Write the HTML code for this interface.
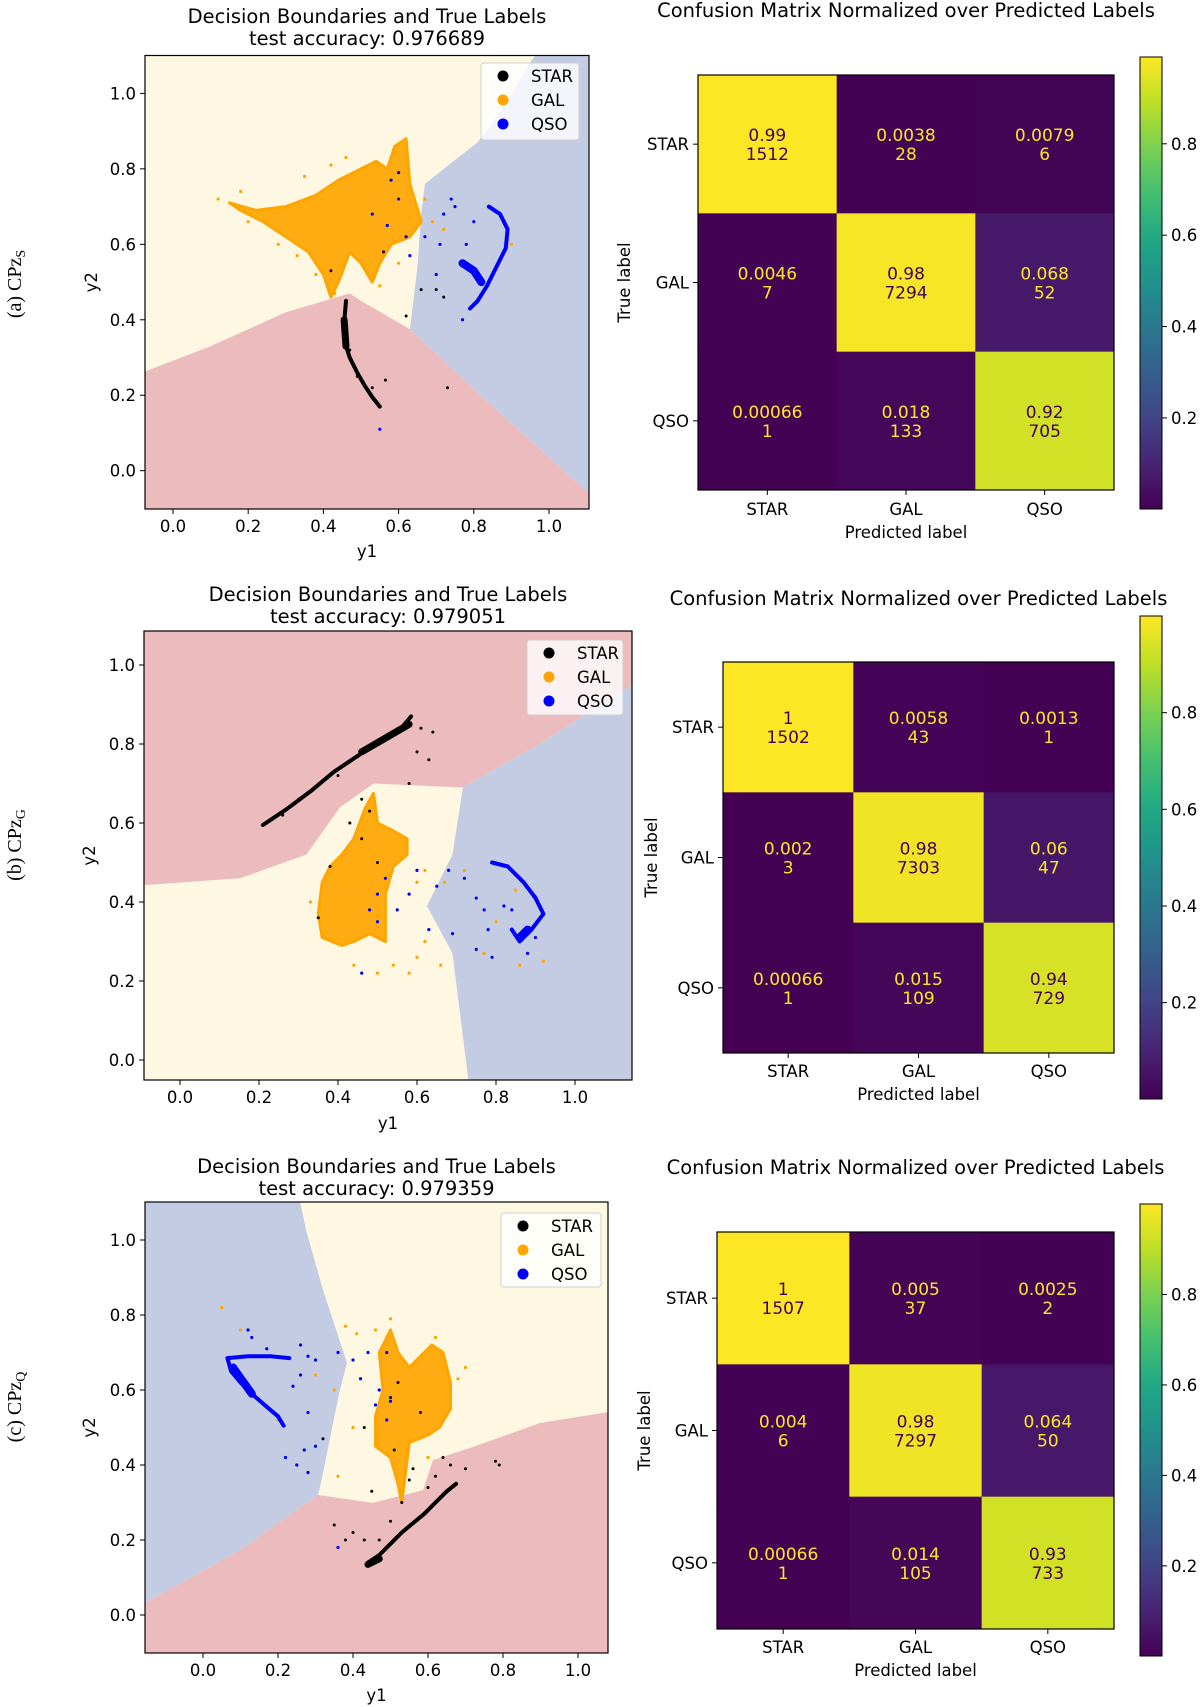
<!DOCTYPE html>
<html><head><meta charset="utf-8">
<style>
html,body{margin:0;padding:0;background:#fff;}
svg{display:block;font-family:"DejaVu Sans","Liberation Sans",sans-serif;}
</style></head>
<body>
<svg id="fig" width="1200" height="1707" viewBox="0 0 1200 1707" xmlns="http://www.w3.org/2000/svg">
<defs>
<linearGradient id="vir" x1="0" y1="1" x2="0" y2="0">
<stop offset="0" stop-color="#440154"/><stop offset="0.1" stop-color="#482475"/><stop offset="0.2" stop-color="#414487"/><stop offset="0.3" stop-color="#355f8d"/><stop offset="0.4" stop-color="#2a788e"/><stop offset="0.5" stop-color="#21918c"/><stop offset="0.6" stop-color="#22a884"/><stop offset="0.7" stop-color="#44bf70"/><stop offset="0.8" stop-color="#7ad151"/><stop offset="0.9" stop-color="#bddf26"/><stop offset="1" stop-color="#fde725"/>
</linearGradient>
</defs>
</svg>
<script>
// ---------- data ----------
const classNames = ["STAR","GAL","QSO"];
const axisTicks = [0.0,0.2,0.4,0.6,0.8,1.0];
const cbarTicks = [0.2,0.4,0.6,0.8];
const titles = ["test accuracy: 0.976689","test accuracy: 0.979051","test accuracy: 0.979359"];

// panel A
const regionRedA = [[-0.2,-0.2],[-0.2,0.215],[0.1,0.33],[0.3,0.42],[0.47,0.47],[0.5,0.45],[0.63,0.375],[0.84,0.18],[1.105,-0.06],[1.2,-0.2]];
const regionBlueA = [[0.965,1.2],[0.965,1.105],[0.87,0.95],[0.81,0.87],[0.72,0.8],[0.67,0.76],[0.66,0.68],[0.65,0.54],[0.63,0.375],[0.84,0.18],[1.105,-0.06],[1.2,-0.06],[1.2,1.2]];
const starLineA = [[0.46,0.45],[0.455,0.39],[0.457,0.34],[0.47,0.30],[0.49,0.26],[0.51,0.225],[0.53,0.195],[0.55,0.17]];
const starBlobA = [[0.455,0.40],[0.46,0.33]];
const starPtsA = [[0.49,0.25],[0.565,0.24],[0.73,0.22],[0.62,0.41],[0.70,0.48],[0.72,0.46],[0.66,0.48],[0.42,0.53],[0.56,0.58],[0.47,0.32],[0.53,0.22]];
const galBlobA = [[0.15,0.71],[0.22,0.69],[0.3,0.7],[0.38,0.73],[0.44,0.77],[0.5,0.80],[0.54,0.82],[0.57,0.80],[0.59,0.86],[0.62,0.88],[0.63,0.76],[0.66,0.66],[0.63,0.62],[0.58,0.6],[0.55,0.55],[0.53,0.5],[0.5,0.55],[0.47,0.58],[0.44,0.5],[0.42,0.46],[0.4,0.52],[0.36,0.58],[0.3,0.62],[0.24,0.66],[0.18,0.69]];
const galPtsA = [[0.12,0.72],[0.18,0.74],[0.35,0.78],[0.42,0.81],[0.46,0.83],[0.6,0.55],[0.63,0.67],[0.67,0.72],[0.69,0.66],[0.72,0.64],[0.9,0.6],[0.43,0.47],[0.55,0.49],[0.28,0.6],[0.33,0.57],[0.38,0.52],[0.2,0.66]];
const qsoLineA = [[0.84,0.70],[0.87,0.68],[0.89,0.64],[0.885,0.59],[0.86,0.54],[0.835,0.49],[0.81,0.45],[0.79,0.43]];
const qsoBlobA = [[0.77,0.55],[0.8,0.53],[0.82,0.5]];
const qsoPtsA = [[0.74,0.72],[0.75,0.70],[0.72,0.68],[0.67,0.62],[0.62,0.62],[0.63,0.57],[0.7,0.52],[0.71,0.6],[0.6,0.72],[0.58,0.77],[0.6,0.79],[0.77,0.40],[0.55,0.11],[0.78,0.6],[0.8,0.66],[0.57,0.65],[0.53,0.68]];

// panel B
const regionRedB = [[-0.2,1.2],[-0.2,0.435],[0.152,0.46],[0.32,0.52],[0.405,0.64],[0.49,0.70],[0.716,0.69],[0.91,0.80],[1.144,0.95],[1.2,0.95],[1.2,1.2]];
const regionBlueB = [[0.716,0.69],[0.91,0.8],[1.144,0.95],[1.2,0.95],[1.2,-0.2],[0.73,-0.2],[0.73,-0.05],[0.69,0.27],[0.625,0.39],[0.69,0.52]];
const starLineB = [[0.21,0.595],[0.27,0.635],[0.33,0.68],[0.39,0.73],[0.45,0.77],[0.51,0.81],[0.56,0.84],[0.585,0.87]];
const starBlobB = [[0.46,0.78],[0.58,0.85]];
const starPtsB = [[0.61,0.84],[0.64,0.83],[0.6,0.78],[0.63,0.76],[0.58,0.70],[0.46,0.66],[0.48,0.63],[0.43,0.6],[0.46,0.56],[0.5,0.5],[0.38,0.49],[0.35,0.36],[0.4,0.72],[0.3,0.66],[0.26,0.62]];
const galBlobB = [[0.35,0.37],[0.36,0.45],[0.38,0.49],[0.41,0.52],[0.44,0.56],[0.47,0.64],[0.49,0.675],[0.5,0.6],[0.54,0.58],[0.575,0.56],[0.575,0.52],[0.54,0.49],[0.52,0.42],[0.52,0.3],[0.48,0.32],[0.44,0.3],[0.41,0.29],[0.36,0.31]];
const galPtsB = [[0.33,0.40],[0.44,0.24],[0.5,0.22],[0.54,0.24],[0.58,0.22],[0.6,0.26],[0.62,0.3],[0.66,0.24],[0.67,0.45],[0.62,0.48],[0.72,0.48],[0.8,0.35],[0.85,0.43],[0.92,0.25],[0.86,0.24],[0.77,0.27],[0.6,0.45]];
const qsoLineB = [[0.79,0.50],[0.83,0.49],[0.87,0.45],[0.9,0.41],[0.92,0.37],[0.89,0.33],[0.86,0.30],[0.84,0.33]];
const qsoBlobB = [[0.86,0.31],[0.88,0.33]];
const qsoPtsB = [[0.65,0.44],[0.68,0.48],[0.72,0.46],[0.75,0.41],[0.77,0.38],[0.82,0.39],[0.84,0.38],[0.78,0.33],[0.79,0.26],[0.75,0.28],[0.69,0.32],[0.63,0.33],[0.58,0.42],[0.55,0.38],[0.52,0.46],[0.5,0.42],[0.48,0.38],[0.5,0.35],[0.46,0.22],[0.88,0.27],[0.90,0.31],[0.6,0.48]];

// panel C
const regionBlueC = [[-0.3,1.2],[0.259,1.2],[0.259,1.101],[0.277,1.018],[0.32,0.867],[0.384,0.672],[0.365,0.6],[0.347,0.512],[0.32,0.379],[0.307,0.32],[0.099,0.173],[-0.155,0.032],[-0.3,0.0]];
const regionRedC = [[-0.3,-0.3],[-0.3,0.0],[-0.155,0.032],[0.099,0.173],[0.307,0.32],[0.453,0.299],[0.587,0.333],[0.613,0.413],[0.72,0.448],[0.899,0.512],[1.08,0.541],[1.2,0.55],[1.2,-0.3]];
const starLineC = [[0.44,0.14],[0.47,0.16],[0.5,0.19],[0.53,0.22],[0.56,0.245],[0.59,0.27],[0.62,0.30],[0.65,0.33],[0.675,0.35]];
const starBlobC = [[0.44,0.135],[0.47,0.15]];
const starPtsC = [[0.38,0.2],[0.35,0.24],[0.4,0.22],[0.43,0.2],[0.47,0.2],[0.5,0.25],[0.53,0.3],[0.55,0.36],[0.56,0.39],[0.6,0.34],[0.62,0.37],[0.64,0.42],[0.66,0.40],[0.7,0.39],[0.79,0.40],[0.78,0.41],[0.45,0.33],[0.51,0.44],[0.52,0.62],[0.5,0.58],[0.43,0.5],[0.32,0.47],[0.58,0.54]];
const galBlobC = [[0.5,0.76],[0.52,0.7],[0.55,0.66],[0.58,0.69],[0.61,0.72],[0.64,0.7],[0.66,0.62],[0.66,0.55],[0.63,0.5],[0.6,0.48],[0.55,0.46],[0.54,0.38],[0.53,0.3],[0.52,0.35],[0.5,0.42],[0.46,0.45],[0.46,0.53],[0.48,0.6],[0.47,0.7]];
const galPtsC = [[0.05,0.82],[0.1,0.76],[0.38,0.77],[0.41,0.75],[0.46,0.76],[0.5,0.79],[0.62,0.74],[0.68,0.63],[0.7,0.66],[0.6,0.42],[0.52,0.41],[0.36,0.37],[0.4,0.5],[0.35,0.6],[0.3,0.64],[0.17,0.56],[0.2,0.52]];
const qsoLineC = [[0.23,0.685],[0.18,0.69],[0.12,0.69],[0.065,0.685],[0.075,0.65],[0.1,0.62],[0.13,0.59],[0.17,0.555],[0.2,0.53],[0.215,0.505]];
const qsoBlobC = [[0.08,0.66],[0.13,0.59]];
const qsoPtsC = [[0.12,0.76],[0.13,0.74],[0.17,0.71],[0.26,0.72],[0.28,0.69],[0.3,0.68],[0.26,0.64],[0.24,0.61],[0.28,0.54],[0.3,0.45],[0.27,0.44],[0.25,0.4],[0.28,0.38],[0.22,0.42],[0.36,0.7],[0.4,0.68],[0.42,0.63],[0.47,0.6],[0.46,0.56],[0.5,0.57],[0.49,0.52],[0.49,0.7],[0.44,0.7],[0.36,0.18]];

// confusion matrices
const cmNormA = [[0.99,0.0038,0.0079],[0.0046,0.98,0.068],[0.00066,0.018,0.92]];
const cmCountA = [[1512,28,6],[7,7294,52],[1,133,705]];
const cmNormB = [[1,0.0058,0.0013],[0.002,0.98,0.06],[0.00066,0.015,0.94]];
const cmCountB = [[1502,43,1],[3,7303,47],[1,109,729]];
const cmNormC = [[1,0.005,0.0025],[0.004,0.98,0.064],[0.00066,0.014,0.93]];
const cmCountC = [[1507,37,2],[6,7297,50],[1,105,733]];

// ---------- drawing ----------
const svg = document.getElementById('fig');
const NS = 'http://www.w3.org/2000/svg';
const FS = 16.5, FT = 19.5, FC = 17;
function el(tag, attrs, parent){
  const e = document.createElementNS(NS, tag);
  for (const k in attrs) e.setAttribute(k, attrs[k]);
  (parent||svg).appendChild(e);
  return e;
}
const VIR = ["#440154","#482475","#414487","#355f8d","#2a788e","#21918c","#22a884","#44bf70","#7ad151","#bddf26","#fde725"];
function hex(c){return [parseInt(c.substr(1,2),16),parseInt(c.substr(3,2),16),parseInt(c.substr(5,2),16)];}
function viridis(t){
  t=Math.max(0,Math.min(1,t)); const f=t*10; const i=Math.min(9,Math.floor(f)); const u=f-i;
  const a=hex(VIR[i]), b=hex(VIR[i+1]);
  return 'rgb('+a.map((v,k)=>Math.round(v+(b[k]-v)*u)).join(',')+')';
}

const scatterPanels = [
  {id:'a', L:145,R:589,T:55.5,B:509, x0:173,x1:549, y0:470.7,y1:93.4, bg:'#fef7e1',
   regions:[[regionRedA,'#ecbbbd','star-region'],[regionBlueA,'#c4cce3','qso-region']],
   starLine:starLineA,starBlob:starBlobA,starPts:starPtsA,galBlob:galBlobA,galPts:galPtsA,qsoLine:qsoLineA,qsoBlob:qsoBlobA,qsoPts:qsoPtsA,
   title:titles[0], titleY:[23,45], legend:[481,63,98,77], xlabY:557, ylabX:97},
  {id:'b', L:144,R:632,T:631,B:1080, x0:180,x1:575, y0:1060,y1:665, bg:'#fef7e1',
   regions:[[regionRedB,'#ecbbbd','star-region'],[regionBlueB,'#c4cce3','qso-region']],
   starLine:starLineB,starBlob:starBlobB,starPts:starPtsB,galBlob:galBlobB,galPts:galPtsB,qsoLine:qsoLineB,qsoBlob:qsoBlobB,qsoPts:qsoPtsB,
   title:titles[1], titleY:[601,623], legend:[527,640,96,75], xlabY:1129, ylabX:95},
  {id:'c', L:145,R:608,T:1202,B:1653, x0:203,x1:578, y0:1615,y1:1240, bg:'#fef7e1',
   regions:[[regionBlueC,'#c4cce3','qso-region'],[regionRedC,'#ecbbbd','star-region']],
   starLine:starLineC,starBlob:starBlobC,starPts:starPtsC,galBlob:galBlobC,galPts:galPtsC,qsoLine:qsoLineC,qsoBlob:qsoBlobC,qsoPts:qsoPtsC,
   title:titles[2], titleY:[1173,1195], legend:[501,1213,100,74], xlabY:1701, ylabX:95}
];

scatterPanels.forEach(p=>{
  const sx = v => p.x0 + (p.x1-p.x0)*v;
  const sy = v => p.y0 + (p.y1-p.y0)*v;
  const pts = arr => arr.map(d=>sx(d[0]).toFixed(1)+','+sy(d[1]).toFixed(1)).join(' ');
  const g = el('g',{});
  
  
  const cp = el('clipPath',{id:'clip'+p.id});
  el('rect',{x:p.L,y:p.T,width:p.R-p.L,height:p.B-p.T},cp);
  const bg = el('rect',{x:p.L,y:p.T,width:p.R-p.L,height:p.B-p.T,fill:p.bg},g);
  
  
  const inner = el('g',{'clip-path':'url(#clip'+p.id+')'},g);
  p.regions.forEach(r=>{
    const poly = el('polygon',{points:pts(r[0]),fill:r[1]},inner);
    
    
  });
  const gb = el('polygon',{points:pts(p.galBlob),fill:'#ffa500','fill-opacity':0.92,stroke:'#ffa500','stroke-width':3,'stroke-linejoin':'round'},inner);
  
  
  p.galPts.forEach(d=>{
    const c = el('circle',{cx:sx(d[0]),cy:sy(d[1]),r:1.6,fill:'#ffa500'},inner);
    
    
  });
  const ql = el('polyline',{points:pts(p.qsoLine),fill:'none',stroke:'#0000ff','stroke-width':4,'stroke-linejoin':'round','stroke-linecap':'round'},inner);
  
  
  const qb = el('polyline',{points:pts(p.qsoBlob),fill:'none',stroke:'#0000ff','stroke-width':8,'stroke-linecap':'round'},inner);
  
  
  p.qsoPts.forEach(d=>{
    const c = el('circle',{cx:sx(d[0]),cy:sy(d[1]),r:1.6,fill:'#0000ff'},inner);
    
    
  });
  const sl = el('polyline',{points:pts(p.starLine),fill:'none',stroke:'#000','stroke-width':4,'stroke-linejoin':'round','stroke-linecap':'round'},inner);
  
  
  const sb = el('polyline',{points:pts(p.starBlob),fill:'none',stroke:'#000','stroke-width':7,'stroke-linecap':'round'},inner);
  
  
  p.starPts.forEach(d=>{
    const c = el('circle',{cx:sx(d[0]),cy:sy(d[1]),r:1.5,fill:'#000'},inner);
    
    
  });
  const fr = el('rect',{x:p.L,y:p.T,width:p.R-p.L,height:p.B-p.T,fill:'none',stroke:'#000','stroke-width':1.2},g);
  
  
  axisTicks.forEach(v=>{
    const x=sx(v), y=sy(v);
    el('line',{x1:x,y1:p.B,x2:x,y2:p.B+5,stroke:'#000','stroke-width':1},g);
    const tx = el('text',{x:x,y:p.B+23,'font-size':FS,'text-anchor':'middle',fill:'#000'},g);
    tx.textContent=v.toFixed(1);
    
    
    el('line',{x1:p.L-5,y1:y,x2:p.L,y2:y,stroke:'#000','stroke-width':1},g);
    const ty = el('text',{x:p.L-9,y:y+6,'font-size':FS,'text-anchor':'end',fill:'#000'},g);
    ty.textContent=v.toFixed(1);
    
    
  });
  const xl = el('text',{x:(p.L+p.R)/2,y:p.xlabY,'font-size':FS,'text-anchor':'middle'},g);
  xl.textContent='y1';
  
  
  const yl = el('text',{x:p.ylabX,y:(p.T+p.B)/2,'font-size':FS,'text-anchor':'middle',transform:'rotate(-90 '+p.ylabX+' '+(p.T+p.B)/2+')'},g);
  yl.textContent='y2';
  
  
  const t1 = el('text',{x:(p.L+p.R)/2,y:p.titleY[0],'font-size':FT,'text-anchor':'middle'},g);
  t1.textContent='Decision Boundaries and True Labels';
  
  
  const t2 = el('text',{x:(p.L+p.R)/2,y:p.titleY[1],'font-size':FT,'text-anchor':'middle'},g);
  t2.textContent=p.title;
  
  
  const [lx,ly,lw,lh]=p.legend;
  const lg = el('g',{},g);
  
  
  el('rect',{x:lx,y:ly,width:lw,height:lh,rx:3,fill:'#ffffff','fill-opacity':0.8,stroke:'#d0d0d0'},lg);
  const lcols=['#000','#ffa500','#0000ff'];
  classNames.forEach((n,i)=>{
    const cy = ly+13+i*24;
    const m = el('circle',{cx:lx+22,cy:cy,r:5.5,fill:lcols[i]},lg);
    
    
    const t = el('text',{x:lx+50,y:cy+6,'font-size':FS},lg);
    t.textContent=n;
    
    
  });
});

[['(a) CPz','S',284],['(b) CPz','G',845],['(c) CPz','Q',1407]].forEach(s=>{
  const t = el('text',{x:14,y:s[2],'font-size':20,'text-anchor':'middle','font-family':'"Liberation Serif","DejaVu Serif",serif',transform:'rotate(-90 14 '+s[2]+')',dy:7});
  
  
  t.appendChild(document.createTextNode(s[0]));
  const sub = el('tspan',{'font-size':14,'baseline-shift':'-4'},t);
  sub.textContent=s[1];
});

const cmPanels = [
  {id:'a', L:698,R:1114,T:75,B:490, norm:cmNormA, count:cmCountA, titleY:17, tickY:515, plabY:538, tlabX:630, cb:[1140,57,22,452]},
  {id:'b', L:723,R:1114,T:662,B:1053, norm:cmNormB, count:cmCountB, titleY:605, tickY:1077, plabY:1100, tlabX:657, cb:[1140,616,22,483]},
  {id:'c', L:717,R:1114,T:1232,B:1629, norm:cmNormC, count:cmCountC, titleY:1174, tickY:1653, plabY:1676, tlabX:650, cb:[1140,1204,22,452]}
];
cmPanels.forEach(p=>{
  const g = el('g',{});
  
  
  const flat = p.norm.flat();
  const vmin = Math.min(...flat), vmax = Math.max(...flat);
  const cw=(p.R-p.L)/3, ch=(p.B-p.T)/3;
  p.norm.forEach((row,i)=>row.forEach((v,j)=>{
    const t=(v-vmin)/(vmax-vmin);
    const r = el('rect',{x:p.L+j*cw,y:p.T+i*ch,width:cw+0.5,height:ch+0.5,fill:viridis(t)},g);
    
    
    const col = t>0.5 ? '#440154' : '#fde725';
    const cx=p.L+j*cw+cw/2, cy=p.T+i*ch+ch/2;
    const t1 = el('text',{x:cx,y:cy-3,'font-size':FC,'text-anchor':'middle',fill:col},g);
    t1.textContent = String(v);
    
    
    const t2 = el('text',{x:cx,y:cy+16,'font-size':FC,'text-anchor':'middle',fill:col},g);
    t2.textContent = String(p.count[i][j]);
    
    
  }));
  el('rect',{x:p.L,y:p.T,width:p.R-p.L,height:p.B-p.T,fill:'none',stroke:'#000','stroke-width':1.2},g);
  classNames.forEach((n,i)=>{
    const x=p.L+i*cw+cw/2, y=p.T+i*ch+ch/2;
    el('line',{x1:x,y1:p.B,x2:x,y2:p.B+5,stroke:'#000'},g);
    const tx = el('text',{x:x,y:p.tickY,'font-size':FS,'text-anchor':'middle'},g);
    tx.textContent=n;
    
    
    el('line',{x1:p.L-5,y1:y,x2:p.L,y2:y,stroke:'#000'},g);
    const ty = el('text',{x:p.L-9,y:y+6,'font-size':FS,'text-anchor':'end'},g);
    ty.textContent=n;
    
    
  });
  const pl = el('text',{x:(p.L+p.R)/2,y:p.plabY,'font-size':FS,'text-anchor':'middle'},g);
  pl.textContent='Predicted label';
  
  
  const tl = el('text',{x:p.tlabX,y:(p.T+p.B)/2,'font-size':FS,'text-anchor':'middle',transform:'rotate(-90 '+p.tlabX+' '+(p.T+p.B)/2+')'},g);
  tl.textContent='True label';
  
  
  const tt = el('text',{x:(p.L+p.R)/2,y:p.titleY,'font-size':FT,'text-anchor':'middle'},g);
  tt.textContent='Confusion Matrix Normalized over Predicted Labels';
  
  
  const [bx,by,bw,bh]=p.cb;
  const cb = el('rect',{x:bx,y:by,width:bw,height:bh,fill:'url(#vir)',stroke:'#000','stroke-width':1},g);
  
  
  cbarTicks.forEach(v=>{
    const y = by+bh - (v-vmin)/(vmax-vmin)*bh;
    el('line',{x1:bx+bw,y1:y,x2:bx+bw+5,y2:y,stroke:'#000'},g);
    const t = el('text',{x:bx+bw+9,y:y+6,'font-size':FS},g);
    t.textContent=v.toFixed(1);
    
    
  });
});
</script>
</body></html>
